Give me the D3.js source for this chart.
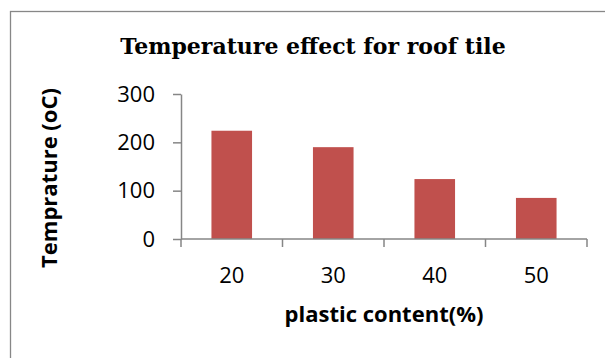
<!DOCTYPE html>
<html>
<head>
<meta charset="utf-8">
<script src="https://cdn.jsdelivr.net/npm/d3@7"></script>
<style>
  html, body { margin: 0; padding: 0; background: #fff; }
  svg { display: block; }
</style>
</head>
<body>
<svg id="chart" width="605" height="358"></svg>
<script>
// Plastic content categories and measured temperatures
const categories = ["20", "30", "40", "50"];
const temperatures = [224, 190, 124, 85];
const yTicks = [0, 100, 200, 300];

const chartTitle = "Temperature effect for roof tile";
const xTitle = "plastic content(%)";
const yTitle = "Temprature (oC)";

const svg = d3.select("#chart");
const W = 605, H = 358;
const plot = { left: 181, right: 587, top: 94, bottom: 239 };
const axisColor = "#868686";

// outer chart frame
svg.append("rect")
  .attr("x", 10.5).attr("y", 11.5)
  .attr("width", W).attr("height", H)
  .attr("fill", "#fff")
  .attr("stroke", "#878787").attr("stroke-width", 1.3);

const x = d3.scaleBand().domain(categories)
  .range([plot.left, plot.right]).paddingInner(0.6).paddingOuter(0.3);
const y = d3.scaleLinear().domain([0, 300]).range([plot.bottom, plot.top]);

// bars
svg.append("g").selectAll("rect").data(temperatures).join("rect")
  .attr("x", (d, i) => x(categories[i]))
  .attr("y", d => y(d))
  .attr("width", x.bandwidth())
  .attr("height", d => y(0) - y(d))
  .attr("fill", "#C0504D");

// y axis
const yAxis = svg.append("g")
  .attr("transform", `translate(${plot.left},0)`)
  .call(d3.axisLeft(y).tickValues(yTicks).tickSize(8).tickPadding(18).tickSizeOuter(0));
yAxis.selectAll("path, line").attr("stroke", axisColor).attr("stroke-width", 1.5);
yAxis.selectAll("text")
  .attr("font-family", "'Open Sans', sans-serif")
  .attr("font-size", 22).attr("fill", "#000");

// x axis with category boundary ticks
const step = x.step();
const boundaries = d3.range(categories.length + 1).map(i => plot.left + i * step);
const xg = svg.append("g");
xg.append("line")
  .attr("x1", plot.left).attr("x2", plot.right)
  .attr("y1", plot.bottom).attr("y2", plot.bottom)
  .attr("stroke", axisColor).attr("stroke-width", 1.5);
xg.selectAll("line.b").data(boundaries).join("line").attr("class", "b")
  .attr("x1", d => d).attr("x2", d => d)
  .attr("y1", plot.bottom).attr("y2", plot.bottom + 8)
  .attr("stroke", axisColor).attr("stroke-width", 1.5);
xg.selectAll("text").data(categories).join("text")
  .attr("x", d => x(d) + x.bandwidth() / 2)
  .attr("y", 283)
  .attr("text-anchor", "middle")
  .attr("font-family", "'Open Sans', sans-serif")
  .attr("font-size", 22).attr("fill", "#000")
  .text(d => d);

// titles
svg.append("text")
  .attr("x", 313).attr("y", 54)
  .attr("text-anchor", "middle")
  .attr("font-family", "'DejaVu Serif', serif")
  .attr("font-weight", "bold").attr("font-size", 22)
  .text(chartTitle);

svg.append("text")
  .attr("x", 384).attr("y", 322)
  .attr("text-anchor", "middle")
  .attr("font-family", "'Open Sans', sans-serif")
  .attr("font-weight", "bold").attr("font-size", 22)
  .text(xTitle);

svg.append("text")
  .attr("transform", "translate(57,178) rotate(-90)")
  .attr("text-anchor", "middle")
  .attr("font-family", "'Open Sans', sans-serif")
  .attr("font-weight", "bold").attr("font-size", 22)
  .text(yTitle);
</script>
</body>
</html>
